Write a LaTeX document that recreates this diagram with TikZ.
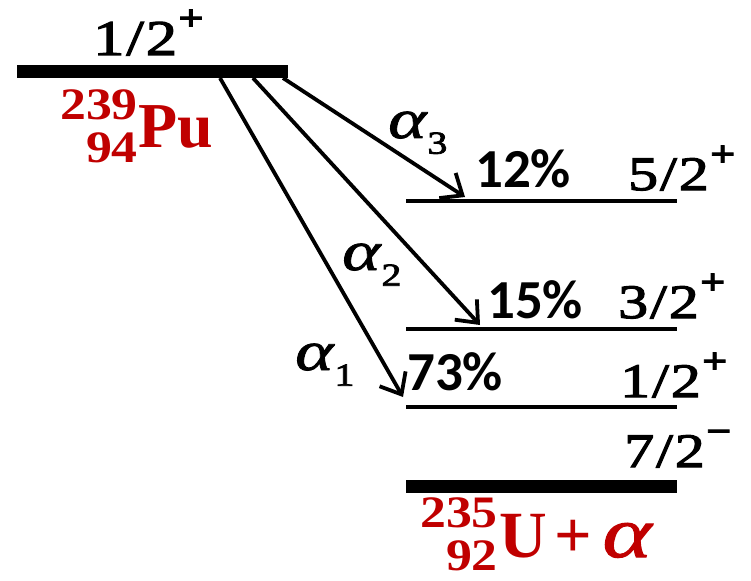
\documentclass[tikz,border=0pt]{standalone}
\usepackage{fontspec}
\setmainfont{Liberation Serif}
\newfontfamily\pctfont{Carlito}
\newfontfamily\spinfont[FakeStretch=1.25,FakeBold=2.5]{Liberation Serif}
\newfontfamily\alfont[FakeStretch=1.3,FakeBold=1.5]{Liberation Serif Italic}
\newfontfamily\nucscfont[FakeStretch=1.15]{Liberation Serif Bold}
\newfontfamily\nucfont{Liberation Serif Bold}
\usetikzlibrary{arrows.meta}
\definecolor{nucred}{HTML}{C00000}
\newcommand{\spinsup}[1]{\kern1pt\raisebox{0.5em}{\fontsize{36}{36}\selectfont\bfseries #1}}
\newcommand{\frc}[2]{#1\kern2pt/\kern2pt#2}
\newcommand{\alsub}[1]{α\kern1pt\raisebox{-0.28em}{\spinfont\fontsize{32}{32}\selectfont #1}}
\begin{document}
\begin{tikzpicture}[x=1pt,y=-1pt,
  lvl/.style={line width=4.5pt},
  gnd/.style={line width=13pt},
  decay/.style={line width=3.8pt,-{Straight Barb[length=18pt,width=30pt,line width=3.8pt]}},
  pct/.style={anchor=base west,inner sep=0,font=\pctfont\bfseries\fontsize{55}{60}\selectfont},
  spin/.style={anchor=base west,inner sep=0,font=\spinfont\fontsize{48}{50}\selectfont},
  alab/.style={anchor=base west,inner sep=0,font=\alfont\fontsize{56}{60}\selectfont},
  nucsc/.style={inner sep=0,text=nucred,font=\nucscfont\fontsize{45}{50}\selectfont},
  nuc/.style={anchor=base west,inner sep=0,text=nucred,font=\nucfont\fontsize{64}{68}\selectfont}
]
\useasboundingbox (0,0) rectangle (751,580);
% parent level
\coordinate (puL) at (17,72);
\coordinate (puR) at (288,72);
\draw[gnd] (puL) -- (puR);
\node[spin,font=\spinfont\fontsize{50}{52}\selectfont] (puspin) at (93,55) {\frc{1}{2}\spinsup{+}};
\node[nucsc,anchor=base east] (puA) at (138,120) {239};
\node[nucsc,anchor=base east] (puZ) at (138,163) {94};
\node[nuc] (pu) at (138,147) {Pu};
% daughter levels
\coordinate (l3L) at (406,201); \coordinate (l3R) at (677,201);
\coordinate (l2L) at (406,329); \coordinate (l2R) at (677,329);
\coordinate (l1L) at (406,407); \coordinate (l1R) at (677,407);
\coordinate (gL) at (406,486); \coordinate (gR) at (677,486);
\draw[lvl] (l3L) -- (l3R);
\draw[lvl] (l2L) -- (l2R);
\draw[lvl] (l1L) -- (l1R);
\draw[gnd] (gL) -- (gR);
% spins
\node[spin] (s3) at (628,190) {\frc{5}{2}\spinsup{+}};
\node[spin] (s2) at (618,318) {\frc{3}{2}\spinsup{+}};
\node[spin] (s1) at (620,397) {\frc{1}{2}\spinsup{+}};
\node[spin] (s0) at (624,467) {\frc{7}{2}\spinsup{−}};
% branching ratios
\node[pct] (p3) at (475,187) {12\%};
\node[pct] (p2) at (487,318) {15\%};
\node[pct] (p1) at (407,390) {73\%};
% decays
\coordinate (a1s) at (220,78); \coordinate (a1e) at (403,397);
\coordinate (a2s) at (253,78); \coordinate (a2e) at (480,325);
\coordinate (a3s) at (283,78); \coordinate (a3e) at (465,197);
\draw[decay] (a1s) -- (a1e);
\draw[decay] (a2s) -- (a2e);
\draw[decay] (a3s) -- (a3e);
\node[alab] (al3) at (388,138) {\alsub{3}};
\node[alab] (al2) at (342,270) {\alsub{2}};
\node[alab] (al1) at (295,370) {\alsub{1}};
% daughter nucleus
\node[nucsc,anchor=base east] (uA) at (498,527) {235};
\node[nucsc,anchor=base east] (uZ) at (498,570) {92};
\node[nuc,font=\nucfont\fontsize{66}{70}\selectfont] (u) at (499,557) {U\kern8pt+\kern10pt{\alfont\fontsize{72}{72}\selectfont α}};
\end{tikzpicture}
\end{document}
